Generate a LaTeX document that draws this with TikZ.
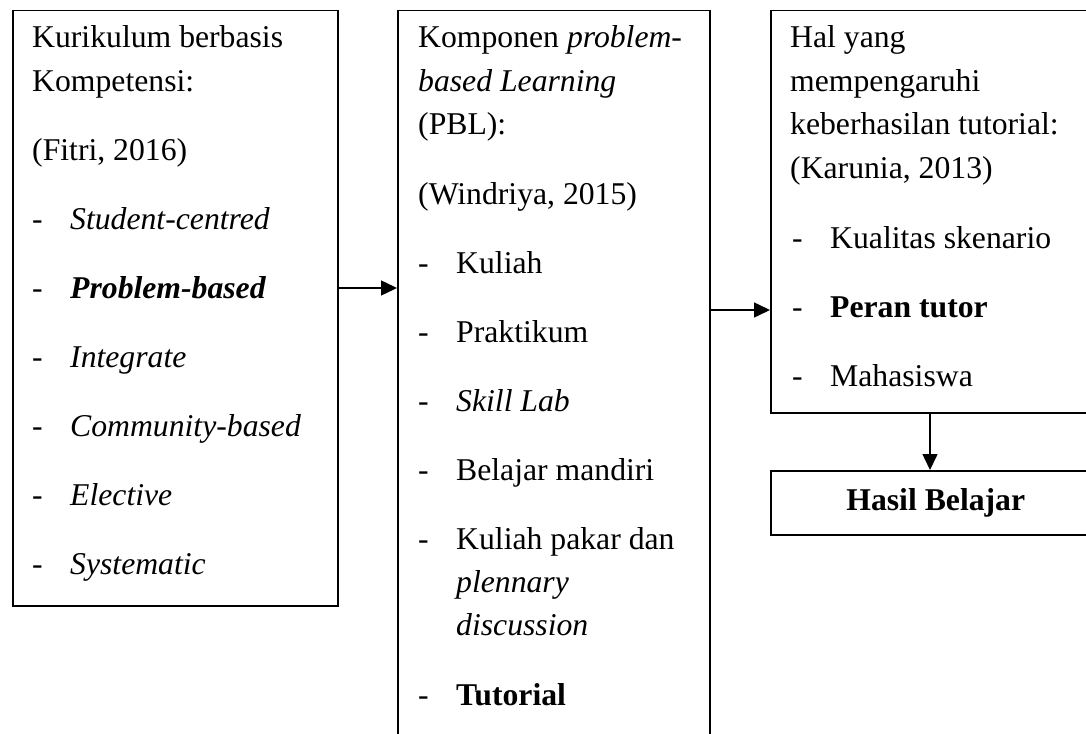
\documentclass[tikz,border=0pt]{standalone}
\usepackage{fontspec}
\setmainfont{Liberation Serif}
\usetikzlibrary{arrows.meta}
\tikzset{
  box/.style={draw, line width=1.5pt, anchor=north west, inner sep=0pt},
  txt/.style={anchor=base west, inner sep=0pt},
  link/.style={-{Triangle[length=16pt,width=15pt]}, line width=1.5pt},
}

\begin{document}
\begin{tikzpicture}[x=1pt,y=-1pt,font=\fontsize{31.7}{40}\selectfont]
  \useasboundingbox (0,0) rectangle (1086,733);
  \clip (0,0) rectangle (1086,733);
  % boxes
  \node[box, minimum width=325pt, minimum height=595pt] (kbk) at (12,10) {};
  \node[box, minimum width=312pt, minimum height=760pt] (pbl) at (397,10) {};
  \node[box, minimum width=340pt, minimum height=402pt] (tut) at (770,10) {};
  \node[box, minimum width=330pt, minimum height=64pt, anchor=north west] (hasil) at (770,470) {};
  \node (hasil-t) at (hasil.center) {\textbf{Hasil Belajar}};
  % first box
  \node[txt] (kbk-h1) at (32,48) {Kurikulum berbasis};
  \node[txt] (kbk-h2) at (32,92) {Kompetensi:};
  \node[txt] (kbk-h3) at (32,160) {(Fitri, 2016)};
  \foreach \y/\t [count=\i] in {229/\textit{Student-centred}, 298/\textbf{\textit{Problem-based}},
      367/\textit{Integrate}, 436/\textit{Community-based}, 505/\textit{Elective}, 574/\textit{Systematic}}{
    \node[txt] (kbk-d\i) at (32,\y) {-};
    \node[txt] (kbk-i\i) at (70,\y) {\t};
  }
  % second box
  \node[txt] (pbl-h1) at (418,48) {Komponen \textit{problem-}};
  \node[txt] (pbl-h2) at (418,92) {\textit{based Learning}};
  \node[txt] (pbl-h3) at (418,135) {(PBL):};
  \node[txt] (pbl-h4) at (418,204) {(Windriya, 2015)};
  \foreach \y/\t [count=\i] in {273/Kuliah, 342/Praktikum, 411/\textit{Skill Lab},
      480/Belajar mandiri, 549/Kuliah pakar dan, 705/\textbf{Tutorial}}{
    \node[txt] (pbl-d\i) at (418,\y) {-};
    \node[txt] (pbl-i\i) at (456,\y) {\t};
  }
  \node[txt] (pbl-i5b) at (456,592) {\textit{plennary}};
  \node[txt] (pbl-i5c) at (456,635) {\textit{discussion}};
  % third box
  \node[txt] (tut-h1) at (790,48) {Hal yang};
  \node[txt] (tut-h2) at (790,92) {mempengaruhi};
  \node[txt] (tut-h3) at (790,135) {keberhasilan tutorial:};
  \node[txt] (tut-h4) at (790,178) {(Karunia, 2013)};
  \foreach \y/\t [count=\i] in {248/Kualitas skenario, 317/\textbf{Peran tutor}, 386/Mahasiswa}{
    \node[txt] (tut-d\i) at (792,\y) {-};
    \node[txt] (tut-i\i) at (830,\y) {\t};
  }
  % connectors
  \coordinate (r1) at (0,288);
  \coordinate (r2) at (0,310);
  \coordinate (r3) at (930,0);
  \draw[link] (kbk.east |- r1) -- (pbl.west |- r1);
  \draw[link] (pbl.east |- r2) -- (tut.west |- r2);
  \draw[link] (tut.south -| r3) -- (hasil.north -| r3);
\end{tikzpicture}
\end{document}
